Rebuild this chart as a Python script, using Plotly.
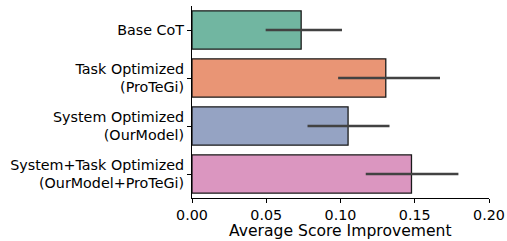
import plotly.graph_objects as go

categories = ["Base CoT", "Task Optimized<br>(ProTeGi)", "System Optimized<br>(OurModel)",
              "System+Task Optimized<br>(OurModel+ProTeGi)"]
means = [0.0735, 0.1305, 0.1051, 0.1478]
ci_low = [0.0496, 0.0984, 0.0778, 0.1170]
ci_high = [0.1010, 0.1670, 0.1330, 0.1794]
colors = ["#71b6a1", "#e99575", "#95a3c3", "#db96c0"]
x_ticks = [0.0, 0.05, 0.10, 0.15, 0.20]
x_tick_labels = ["0.00", "0.05", "0.10", "0.15", "0.20"]
x_title = "Average Score Improvement"

fig = go.Figure()
fig.add_trace(go.Bar(
    y=categories, x=means, orientation="h", width=0.8,
    marker=dict(color=colors, line=dict(color="#1a1a1a", width=1.3)),
    error_x=dict(type="data", symmetric=False,
                 array=[h - m for h, m in zip(ci_high, means)],
                 arrayminus=[m - l for m, l in zip(means, ci_low)],
                 thickness=2.7, width=0, color="#424242"),
    showlegend=False,
))

font = "DejaVu Sans"
fig.update_layout(
    width=507, height=241,
    margin=dict(l=192, r=18, t=6, b=43, autoexpand=False),
    plot_bgcolor="white", paper_bgcolor="white",
    font=dict(family=font, color="black", size=14.3),
    bargap=0.2,
)
fig.update_xaxes(
    range=[0, 0.2], tickvals=x_ticks, ticktext=x_tick_labels,
    showline=True, linecolor="black", linewidth=1.1,
    ticks="outside", ticklen=4, tickwidth=1.1, tickcolor="black",
    showgrid=False, zeroline=False, automargin=False,
    tickfont=dict(size=14.3),
)
fig.update_yaxes(
    range=[3.5, -0.5], type="category",
    showline=True, linecolor="black", linewidth=1.1,
    ticks="outside", ticklen=4, tickwidth=1.1, tickcolor="black",
    showgrid=False, zeroline=False, automargin=False,
    tickfont=dict(size=14.3),
)
fig.add_annotation(
    text=x_title, xref="paper", yref="paper", x=0.5, y=0,
    xanchor="center", yanchor="top", yshift=-22, showarrow=False,
    font=dict(size=15.6, family=font, color="black"),
)

fig.write_html("out.html",
               config={"displayModeBar": False},
               post_script="document.body.style.margin='0';document.body.style.padding='0';")
